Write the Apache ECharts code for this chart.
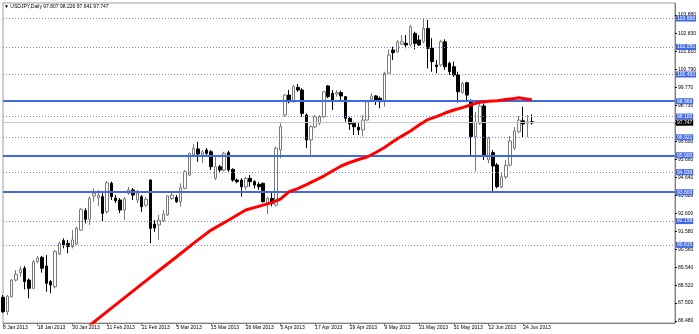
<!DOCTYPE html>
<html><head><meta charset="utf-8">
<script src="https://cdn.jsdelivr.net/npm/echarts/dist/echarts.min.js"></script>
<style>html,body{margin:0;padding:0;background:#fff}#c{width:699px;height:334px}</style>
</head><body><div id="c"></div>
<script>
const symbol = 'USDJPY', period = 'Daily';
const tickLabels = ['8 Jan 2013','18 Jan 2013','30 Jan 2013','11 Feb 2013','21 Feb 2013','5 Mar 2013','15 Mar 2013','26 Mar 2013','5 Apr 2013','17 Apr 2013','29 Apr 2013','9 May 2013','21 May 2013','31 May 2013','12 Jun 2013','24 Jun 2013'];
const tickStep = 8;
const slotCount = 156;
const open = [87.83,87.01,87.86,88.81,89.23,89.48,88.81,88.34,89.85,90.10,89.61,88.72,88.43,90.29,91.05,90.90,90.71,90.86,91.65,92.75,92.26,93.59,93.47,93.55,92.69,94.31,93.47,93.36,92.79,93.74,93.93,93.36,93.55,93.07,94.49,91.99,91.94,92.18,92.51,93.45,93.51,93.26,94.02,94.78,95.92,96.26,95.92,96.20,96.10,94.59,95.25,95.06,96.05,95.10,94.49,94.49,94.11,94.59,94.40,94.25,94.31,93.19,93.45,93.07,96.20,98.19,99.32,98.94,99.76,99.61,98.19,96.77,97.52,97.72,98.09,99.84,99.42,99.38,99.46,99.23,98.00,97.72,97.49,97.34,97.90,99.08,99.27,99.14,98.94,100.56,101.88,101.78,102.21,102.26,102.17,102.83,102.45,102.35,103.11,101.98,101.03,101.03,102.35,101.13,100.93,100.46,99.46,100.02,98.98,96.96,97.72,98.70,95.63,96.05,95.35,94.11,94.67,95.35,96.31,97.24,97.86,97.72,97.807];
const high = [87.96,87.96,88.87,89.38,89.61,89.61,88.91,89.95,90.18,90.18,90.23,88.81,90.52,90.99,91.18,91.09,91.65,91.84,92.89,92.89,93.55,94.02,93.93,93.74,94.44,94.40,93.64,93.47,93.53,94.11,94.04,93.93,93.64,93.53,94.53,92.22,92.51,92.79,93.64,93.76,93.64,94.31,95.06,96.05,96.54,96.67,96.20,96.31,96.20,95.82,95.35,96.10,96.16,95.16,94.59,94.59,94.68,94.78,94.49,94.38,94.34,93.55,93.76,96.39,97.72,99.38,99.61,99.89,99.95,99.71,98.28,97.62,98.19,98.19,99.57,99.89,99.61,99.61,99.57,99.27,98.09,97.81,97.72,98.19,99.04,99.42,99.32,99.23,100.65,101.92,102.07,102.45,102.73,102.73,103.30,102.92,102.73,103.68,103.59,102.55,101.31,102.45,102.49,101.22,101.22,100.65,100.08,100.08,99.08,98.36,98.87,98.85,96.96,96.20,95.46,94.88,95.63,96.99,97.51,98.13,98.66,98.19,98.226];
const low = [86.94,86.82,87.82,88.72,89.00,88.28,87.77,88.28,89.76,89.23,88.15,88.06,88.34,90.23,90.61,90.33,90.61,90.80,91.61,92.03,91.94,93.26,93.02,92.13,92.60,93.36,93.19,92.62,92.22,93.64,93.36,93.19,92.69,92.96,90.90,91.56,91.09,92.11,92.45,93.36,93.19,92.98,93.97,94.72,95.82,95.53,95.46,95.92,95.06,94.49,94.88,94.97,94.97,94.40,94.31,93.55,93.93,94.11,94.02,93.93,93.21,92.56,93.00,92.98,95.73,98.09,98.85,98.89,99.51,98.09,96.30,95.82,97.43,97.62,98.03,99.14,98.47,99.23,99.04,97.81,97.34,97.05,97.05,96.96,97.86,99.04,98.76,98.57,98.66,100.56,101.31,101.73,102.17,101.98,102.07,101.92,102.11,102.26,100.84,100.65,100.56,100.93,100.75,100.46,100.36,98.89,99.42,99.04,95.86,94.97,97.62,95.63,95.44,93.77,94.02,94.02,94.55,95.25,96.20,97.15,96.92,96.92,97.641];
const close = [87.01,87.90,88.81,89.14,89.42,88.72,88.34,89.85,90.05,89.48,88.63,88.53,90.42,90.90,90.80,90.71,91.09,91.75,92.83,92.26,93.45,93.74,93.64,92.60,94.34,93.55,93.32,92.79,93.42,93.93,93.64,93.76,92.98,93.40,91.75,91.77,92.22,92.56,93.59,93.64,93.26,94.06,94.97,96.01,96.30,95.97,96.09,96.01,95.25,95.25,95.06,96.01,95.06,94.49,94.40,94.11,94.59,94.40,94.21,94.11,93.26,93.45,93.17,96.30,97.52,99.32,98.94,99.80,99.61,98.28,96.77,97.52,98.09,98.09,99.51,99.23,99.04,99.46,99.27,98.00,97.68,97.52,97.34,97.90,98.94,99.27,99.00,98.94,100.56,101.60,101.73,102.35,102.35,102.17,103.20,102.26,102.17,103.11,101.98,101.22,100.93,102.35,100.93,100.65,100.46,99.51,99.99,99.32,96.96,97.79,98.70,95.92,96.88,95.29,94.11,94.68,95.32,96.71,97.28,97.90,97.68,97.81,97.747];
const maIndex = [18,20,24,28,32,36,40,44,48,52,56,60,62,64,66,68,70,72,74,76,78,80,82,84,86,88,90,92,94,96,98,100,102,104,106,108,110,112,114,116,118,119,120,122];
const maValue = [85.86,86.23,87.02,87.80,88.58,89.35,90.12,90.91,91.65,92.21,92.79,93.07,93.21,93.41,93.83,94.01,94.23,94.47,94.72,95.01,95.29,95.49,95.66,95.80,96.06,96.34,96.68,96.99,97.28,97.62,97.93,98.10,98.30,98.47,98.61,98.78,98.91,98.97,99.00,99.07,99.13,99.17,99.13,99.06];
const solidLevels = [98.966, 95.900, 93.800];
const dottedLevels = [103.668, 102.050, 100.493, 98.100, 96.921, 94.936, 92.158, 90.815];
const priceTicks = [86.480,87.500,88.520,89.540,90.560,91.580,92.600,93.620,94.640,95.660,96.690,97.710,98.730,99.770,100.790,101.810,102.830,103.880];
const yMin = 86.37, yMax = 104.552;

const FONT = 'Liberation Sans';
const BLUE = '#4169e1';
const BLUE_DOT = '#6a8be6';
const last = open.length - 1;
const cats = [];
for (let i = 0; i < slotCount; i++) cats.push(String(i));
const candles = open.map((o, i) => [o, close[i], low[i], high[i]]);
const maData = maIndex.map((x, k) => [x, maValue[k]]);
const bid = close[last];
const isTick = (i) => i % tickStep === 0 && i / tickStep < tickLabels.length;

function lvlLine(v, solid) {
  return {
    yAxis: v,
    lineStyle: { color: solid ? BLUE : BLUE_DOT, width: solid ? 2 : 1, type: solid ? 'solid' : [1, 2] },
    label: { show: true, position: 'end', distance: 1, formatter: v.toFixed(3), color: '#fff',
      backgroundColor: BLUE, padding: [0, 1, 0, 1], fontSize: 5, lineHeight: 6, fontFamily: FONT }
  };
}
const markData = [];
dottedLevels.forEach(v => markData.push(lvlLine(v, false)));
solidLevels.forEach(v => markData.push(lvlLine(v, true)));
markData.push({
  yAxis: bid,
  lineStyle: { color: '#c8c8c8', width: 1, type: 'solid' },
  label: { show: true, position: 'end', distance: 1, formatter: bid.toFixed(3), color: '#fff',
    backgroundColor: '#000', padding: [0, 1, 0, 1], fontSize: 5, lineHeight: 6, fontFamily: FONT }
});

const chart = echarts.init(document.getElementById('c'), null, { renderer: 'canvas' });
chart.setOption({
  animation: false,
  backgroundColor: '#ffffff',
  title: {
    text: '\u25BC ' + symbol + ',' + period + ' ' + [open[last], high[last], low[last], close[last]].map(v => v.toFixed(3)).join(' '),
    left: 4, top: 4, padding: 0,
    textStyle: { fontSize: 5, fontWeight: 'normal', color: '#000', fontFamily: FONT }
  },
  grid: { left: 2, right: 22, top: 3, bottom: 11, show: true, borderColor: '#a0a0a0', borderWidth: 1, backgroundColor: '#fff' },
  xAxis: {
    type: 'category', data: cats, boundaryGap: false,
    axisLine: { show: true, lineStyle: { color: '#808080', width: 1 } },
    axisTick: { show: true, length: 3, lineStyle: { color: '#808080' }, interval: (i) => isTick(i) },
    axisLabel: {
      show: true, interval: (i) => isTick(i),
      formatter: (v) => tickLabels[Number(v) / tickStep] || '',
      align: 'left', margin: 2, fontSize: 5, color: '#000', fontFamily: FONT, hideOverlap: false
    },
    splitLine: { show: false }
  },
  yAxis: {
    type: 'value', position: 'right', min: yMin, max: yMax, scale: true,
    axisLine: { show: true, lineStyle: { color: '#808080', width: 1 } },
    axisTick: { show: true, length: 2, customValues: priceTicks, lineStyle: { color: '#000' } },
    axisLabel: { show: true, customValues: priceTicks, formatter: v => v.toFixed(3), margin: 3, fontSize: 5, color: '#000', fontFamily: FONT },
    splitLine: { show: false }
  },
  series: [
    {
      type: 'candlestick', data: candles, barWidth: 3, clip: false,
      itemStyle: { color: '#ffffff', color0: '#000000', borderColor: '#7a7a7a', borderColor0: '#000000', borderWidth: 1 },
      markLine: { silent: true, symbol: 'none', animation: false, data: markData }
    },
    {
      type: 'line', data: maData, showSymbol: false, symbol: 'none', clip: true, smooth: false,
      lineStyle: { color: '#ff0000', width: 3 }, z: 5
    }
  ]
});
</script></body></html>
